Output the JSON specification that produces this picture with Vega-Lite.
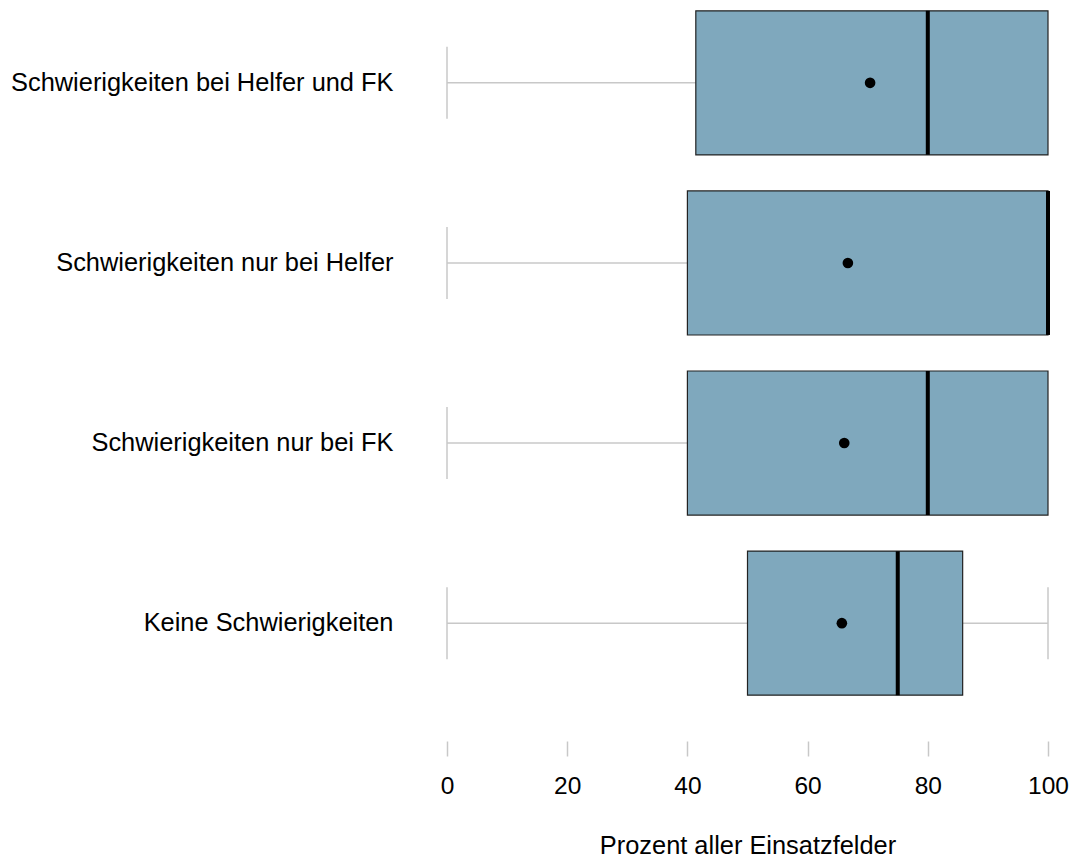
{
  "$schema": "https://vega.github.io/schema/vega-lite/v6.json",
  "autosize": {"type": "none"},
  "width": 601,
  "height": 706,
  "padding": {"left": 447, "top": 0, "right": 25, "bottom": 152},
  "background": "white",
  "config": {
    "view": {"stroke": null},
    "font": "Liberation Sans"
  },
  "datasets": {
    "box": [
      {"cat": "Schwierigkeiten bei Helfer und FK", "q1": 41.4, "med": 80, "q3": 100, "mean": 70.4},
      {"cat": "Schwierigkeiten nur bei Helfer", "q1": 40, "med": 100, "q3": 100, "mean": 66.7},
      {"cat": "Schwierigkeiten nur bei FK", "q1": 40, "med": 80, "q3": 100, "mean": 66.1},
      {"cat": "Keine Schwierigkeiten", "q1": 50, "med": 75, "q3": 85.8, "mean": 65.7}
    ],
    "whisk": [
      {"cat": "Schwierigkeiten bei Helfer und FK", "from": 0, "to": 41.4},
      {"cat": "Schwierigkeiten nur bei Helfer", "from": 0, "to": 40},
      {"cat": "Schwierigkeiten nur bei FK", "from": 0, "to": 40},
      {"cat": "Keine Schwierigkeiten", "from": 0, "to": 50},
      {"cat": "Keine Schwierigkeiten", "from": 85.8, "to": 100}
    ],
    "caps": [
      {"cat": "Schwierigkeiten bei Helfer und FK", "val": 0},
      {"cat": "Schwierigkeiten nur bei Helfer", "val": 0},
      {"cat": "Schwierigkeiten nur bei FK", "val": 0},
      {"cat": "Keine Schwierigkeiten", "val": 0},
      {"cat": "Keine Schwierigkeiten", "val": 100}
    ]
  },
  "encoding": {
    "y": {
      "field": "cat",
      "type": "nominal",
      "sort": ["Schwierigkeiten bei Helfer und FK", "Schwierigkeiten nur bei Helfer", "Schwierigkeiten nur bei FK", "Keine Schwierigkeiten"],
      "scale": {"paddingInner": 0.2, "paddingOuter": 0.06},
      "axis": {
        "title": null,
        "ticks": false,
        "domain": false,
        "labelPadding": 54,
        "labelFontSize": 25.4,
        "labelColor": "#000000",
        "labelLimit": 600
      }
    }
  },
  "layer": [
    {
      "data": {"name": "whisk"},
      "mark": {"type": "rule", "color": "#c8c8c8", "strokeWidth": 1.5},
      "encoding": {
        "x": {
          "field": "from",
          "type": "quantitative",
          "scale": {"domain": [0, 100], "nice": false},
          "axis": {
            "title": "Prozent aller Einsatzfelder",
            "values": [0, 20, 40, 60, 80, 100],
            "grid": false,
            "domain": false,
            "offset": 35,
            "tickSize": 15,
            "tickColor": "#c8c8c8",
            "tickWidth": 1.5,
            "labelFlush": false,
            "labelFontSize": 24.5,
            "labelColor": "#000000",
            "labelPadding": 18,
            "titleFontSize": 25.4,
            "titleFontWeight": "normal",
            "titleColor": "#000000",
            "titlePadding": 36
          }
        },
        "x2": {"field": "to"}
      }
    },
    {
      "data": {"name": "caps"},
      "mark": {"type": "tick", "color": "#c8c8c8", "opacity": 1, "thickness": 1.5, "size": 72, "orient": "vertical"},
      "encoding": {
        "x": {"field": "val", "type": "quantitative"}
      }
    },
    {
      "data": {"name": "box"},
      "mark": {"type": "bar", "fill": "#7fa8bd", "stroke": "#222222", "strokeWidth": 1.2},
      "encoding": {
        "x": {"field": "q1", "type": "quantitative"},
        "x2": {"field": "q3"}
      }
    },
    {
      "data": {"name": "box"},
      "mark": {"type": "tick", "color": "#000000", "opacity": 1, "thickness": 4, "size": 144, "orient": "vertical"},
      "encoding": {
        "x": {"field": "med", "type": "quantitative"}
      }
    },
    {
      "data": {"name": "box"},
      "mark": {"type": "point", "filled": true, "color": "#000000", "opacity": 1, "size": 113},
      "encoding": {
        "x": {"field": "mean", "type": "quantitative"}
      }
    }
  ]
}
